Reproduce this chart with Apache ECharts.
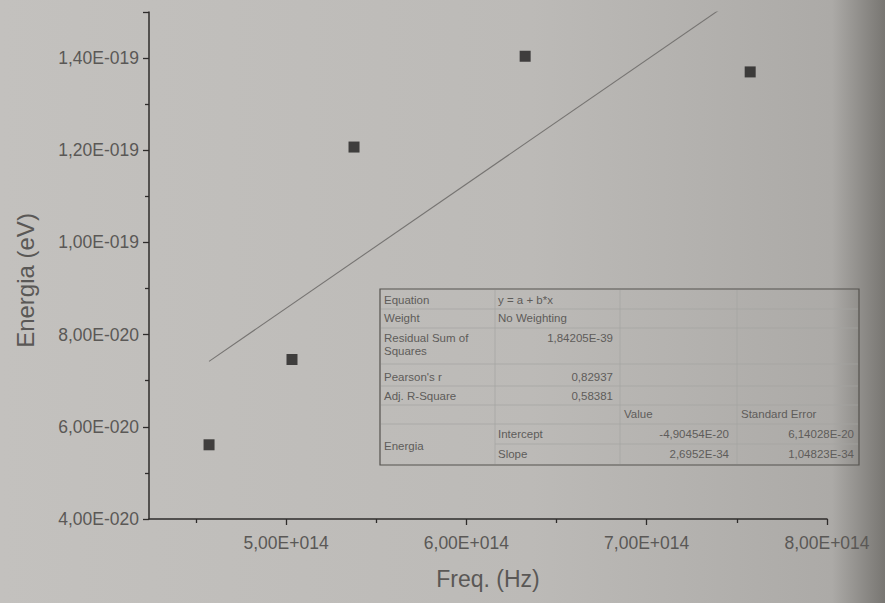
<!DOCTYPE html>
<html lang="en">
<head>
    <meta charset="utf-8">
    <title>Energia x Freq.</title>
    <script src="https://cdn.jsdelivr.net/npm/echarts@6/dist/echarts.min.js"></script>
    <style>
        html, body { margin: 0; padding: 0; }
        #main { width: 885px; height: 603px; }
    </style>
</head>
<body>
    <div id="main"></div>
    <script type="text/javascript">
        // pontos medidos
        var freq = [4.573e14, 5.033e14, 5.377e14, 6.326e14, 7.574e14];
        var energia = [5.61e-20, 7.46e-20, 12.07e-20, 14.04e-20, 13.70e-20];
        // ajuste linear y = a + b*x
        var intercept = -4.90454e-20;
        var slope = 2.6952e-34;
        // marcas dos eixos
        var xMajor = [5e14, 6e14, 7e14, 8e14];
        var xMinor = [4.5e14, 5.5e14, 6.5e14, 7.5e14];
        // tabela do ajuste
        var statLabels = ["Equation", "Weight", "Residual Sum of\nSquares", "Pearson's r", "Adj. R-Square"];
        var statValues = ["y = a + b*x", "No Weighting", "1,84205E-39", "0,82937", "0,58381"];
        var paramHeader = ["Value", "Standard Error"];
        var paramNames = ["Intercept", "Slope"];
        var paramValues = ["-4,90454E-20", "2,6952E-34"];
        var paramErrors = ["6,14028E-20", "1,04823E-34"];

        function sci(v) {
            var p = v.toExponential(2).split("e");
            var e = parseInt(p[1], 10);
            return p[0].replace(".", ",") + "E" + (e < 0 ? "-" : "+") + String(Math.abs(e)).padStart(3, "0");
        }

        var txtColor = "#5e5c5a";
        var gridColor = "#a5a3a0";
        function t(x, y, s, align) {
            return { type: "text", x: x, y: y, silent: true,
                style: { text: s, fill: txtColor, font: "11.5px 'Liberation Sans'", align: align || "left", verticalAlign: "middle", lineHeight: 13 } };
        }
        function ln(x1, y1, x2, y2) {
            return { type: "line", silent: true, shape: { x1: x1, y1: y1, x2: x2, y2: y2 }, style: { stroke: gridColor, lineWidth: 0.7 } };
        }

        // tabela
        var tbl = [];
        tbl.push({ type: "rect", silent: true, shape: { x: 380, y: 289, width: 479, height: 176 },
            style: { fill: "rgba(0,0,0,0)", stroke: "#55534f", lineWidth: 1.2 } });
        [309, 328, 364, 386, 405, 424].forEach(function (y) { tbl.push(ln(381, y, 858, y)); });
        tbl.push(ln(495, 444, 858, 444));
        [495, 620, 737].forEach(function (x) { tbl.push(ln(x, 290, x, 464)); });
        var rowY = [300, 318, 344, 377, 396];
        statLabels.forEach(function (s, i) {
            tbl.push(t(384, rowY[i], s));
            tbl.push(t(i < 2 ? 498 : 613, i == 2 ? 338 : rowY[i], statValues[i], i < 2 ? "left" : "right"));
        });
        tbl.push(t(624, 414, paramHeader[0]));
        tbl.push(t(741, 414, paramHeader[1]));
        tbl.push(t(384, 446, "Energia"));
        paramNames.forEach(function (s, i) {
            var y = 434 + i * 20;
            tbl.push(t(498, y, s));
            tbl.push(t(729, y, paramValues[i], "right"));
            tbl.push(t(854, y, paramErrors[i], "right"));
        });

        var xMin = 4.24e14, xMax = 8e14;
        var fitX = [freq[0], freq[freq.length - 1]];
        var fitData = fitX.map(function (x) { return [x, intercept + slope * x]; });

        var chart = echarts.init(document.getElementById("main"), null, { renderer: "svg" });
        var axisLine = { lineStyle: { color: "#2e2c2b", width: 1.5 } };
        var labelColor = "#5a5856";
        chart.setOption({
            backgroundColor: new echarts.graphic.LinearGradient(0, 0, 1, 0, [
                { offset: 0, color: "#c3c1be" },
                { offset: 0.6, color: "#bcbab7" },
                { offset: 0.94, color: "#acaaa7" },
                { offset: 1, color: "#787672" }
            ]),
            animation: false,
            grid: { left: 149, right: 58, top: 12, bottom: 84 },
            xAxis: [{
                type: "value", min: xMin, max: xMax,
                name: "Freq. (Hz)", nameLocation: "middle", nameGap: 48,
                nameTextStyle: { color: labelColor, fontSize: 23, fontFamily: "Liberation Sans" },
                axisLine: axisLine,
                axisTick: { customValues: xMajor, length: 6, lineStyle: { color: "#2e2c2b", width: 1.3 } },
                axisLabel: { customValues: xMajor, formatter: sci, color: labelColor, fontSize: 17.5, fontFamily: "Liberation Sans", margin: 15 },
                splitLine: { show: false }
            }, {
                type: "value", min: xMin, max: xMax, position: "bottom",
                axisLine: { show: false },
                axisTick: { customValues: xMinor, length: 4, lineStyle: { color: "#2e2c2b", width: 1.3 } },
                axisLabel: { show: false },
                splitLine: { show: false }
            }],
            yAxis: {
                type: "value", min: 4e-20, max: 1.5e-19, interval: 2e-20,
                name: "Energia (eV)", nameLocation: "middle", nameGap: 112,
                nameTextStyle: { color: labelColor, fontSize: 24, fontFamily: "Liberation Sans", padding: [0, 30, 0, 0] },
                axisLine: Object.assign({ show: true }, axisLine),
                axisTick: { show: true, length: 6, lineStyle: { color: "#2e2c2b", width: 1.3 } },
                minorTick: { show: true, splitNumber: 2, length: 4, lineStyle: { color: "#2e2c2b", width: 1.3 } },
                axisLabel: { formatter: sci, showMaxLabel: false, color: labelColor, fontSize: 17.5, fontFamily: "Liberation Sans", margin: 10 },
                splitLine: { show: false }
            },
            graphic: tbl,
            series: [{
                type: "line", data: fitData, symbol: "none", clip: true,
                lineStyle: { color: "#767472", width: 1.1 }
            }, {
                type: "scatter", symbol: "rect", symbolSize: 11,
                data: freq.map(function (x, i) { return [x, energia[i]]; }),
                itemStyle: { color: "#1f1e1e" }
            }]
        });
    </script>
</body>
</html>
